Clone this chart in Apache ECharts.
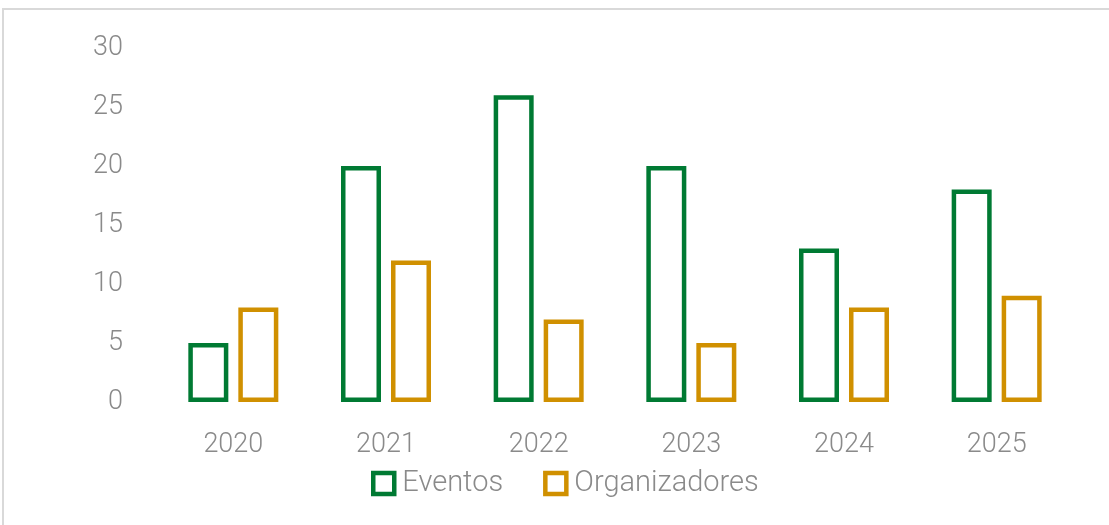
<!DOCTYPE html>
<html><head><meta charset="utf-8">
<script src="https://cdn.jsdelivr.net/npm/echarts@6/dist/echarts.min.js"></script>
<style>html,body{margin:0;padding:0;background:#fff}#c{width:1109px;height:525px}</style>
</head><body><div id="c"></div>
<script>
const categories = ['2020','2021','2022','2023','2024','2025'];
const eventos = [5, 20, 26, 20, 13, 18];
const organizadores = [8, 12, 7, 5, 8, 9];
const yTicks = [0, 5, 10, 15, 20, 25, 30];

const chart = echarts.init(document.getElementById('c'));
const font = 'Roboto, "Liberation Sans", sans-serif';
const gray = '#8a8a8a';
chart.setOption({
  animation: false,
  backgroundColor: '#fff',
  graphic: [{type:'rect', shape:{x:3, y:9, width:1120, height:530}, style:{fill:'none', stroke:'#d9d9d9', lineWidth:2}, silent:true}],
  grid: {left:157, right:36, top:48, bottom:123},
  legend: {
    bottom: 22, left: 366, icon: 'rect', itemWidth: 21, itemHeight: 21, itemGap: 40,
    itemStyle: {borderWidth: 4.5, color: '#ffffff'},
    textStyle: {color: gray, fontSize: 29, fontFamily: font, fontWeight: 300, padding: [0,0,0,3]},
    data: ['Eventos','Organizadores']
  },
  xAxis: {
    type:'category', data: categories,
    axisLine:{show:false}, axisTick:{show:false},
    axisLabel:{color:gray, fontSize:27, fontFamily:font, fontWeight:300, margin:30}
  },
  yAxis: {
    type:'value', min: yTicks[0], max: yTicks[yTicks.length-1], interval: 5,
    splitLine:{show:false}, axisLine:{show:false}, axisTick:{show:false},
    axisLabel:{color:gray, fontSize:27, fontFamily:font, fontWeight:300, margin:34}
  },
  series: [
    {name:'Eventos', type:'bar', data: eventos, barWidth:40, barGap:'25%',
     itemStyle:{color:'#ffffff', borderColor:'#007a33', borderWidth:4.5}},
    {name:'Organizadores', type:'bar', data: organizadores, barWidth:40,
     itemStyle:{color:'#ffffff', borderColor:'#d09000', borderWidth:4.5}}
  ]
});
</script></body></html>
